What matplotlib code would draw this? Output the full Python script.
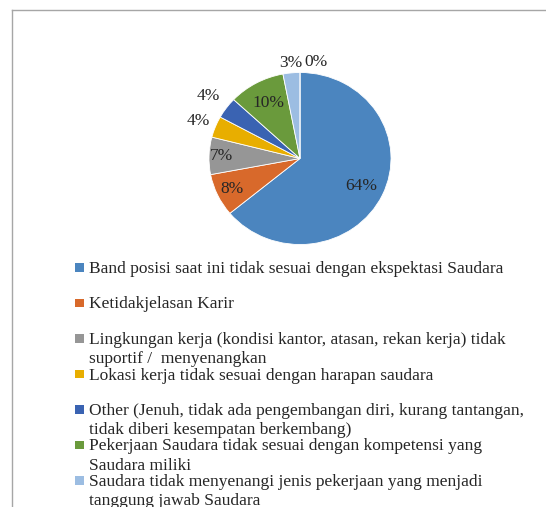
import matplotlib
matplotlib.use("Agg")
import matplotlib.pyplot as plt
from matplotlib.patches import Rectangle
from matplotlib.lines import Line2D
import numpy as np

# ---- data ----
categories = [
    "Band posisi saat ini tidak sesuai dengan ekspektasi Saudara",
    "Ketidakjelasan Karir",
    "Lingkungan kerja (kondisi kantor, atasan, rekan kerja) tidak\nsuportif /  menyenangkan",
    "Lokasi kerja tidak sesuai dengan harapan saudara",
    "Other (Jenuh, tidak ada pengembangan diri, kurang tantangan,\ntidak diberi kesempatan berkembang)",
    "Pekerjaan Saudara tidak sesuai dengan kompetensi yang\nSaudara miliki",
    "Saudara tidak menyenangi jenis pekerjaan yang menjadi\ntanggung jawab Saudara",
    "",
]
values = [64, 8, 7, 4, 4, 10, 3, 0]
pct_labels = ["64%", "8%", "7%", "4%", "4%", "10%", "3%", "0%"]
colors = ["#4B85BF", "#D8692B", "#969696", "#E8AE00", "#3A63B2", "#6A9A3C", "#9CBDE2", "#C0504D"]

# ---- layout ----
W, H = 546, 507
fig = plt.figure(figsize=(W / 100, H / 100), dpi=100)
serif = "Liberation Serif"

cx, cy, RX, RY = 300, 158.5, 91, 86
ax = fig.add_axes([(cx - RX) / W, (H - cy - RY) / H, 2 * RX / W, 2 * RY / H])
wedges, _ = ax.pie(values, colors=colors, startangle=90, counterclock=False,
                   radius=1, wedgeprops=dict(edgecolor="white", linewidth=0.6))
ax.set_aspect("auto")
ax.set_xlim(-1, 1)
ax.set_ylim(-1, 1)
ax.set_axis_off()

label_dist = [0.74, 0.82, 0.86, 1.20, 1.24, 0.73, 1.12, 1.12]
label_ha = ["center", "center", "center", "center", "center", "center", "center", "left"]
label_shift = [0, 0, 0, 0, 0, 0, 0, 0.05]
for w, lab, d, ha, sh in zip(wedges, pct_labels, label_dist, label_ha, label_shift):
    ang = np.deg2rad((w.theta1 + w.theta2) / 2)
    x, y = d * np.cos(ang) + sh, d * np.sin(ang)
    ax.text(x, y, lab, ha=ha, va="center", fontsize=12.5, family=serif,
            color="#262626", clip_on=False)

# border lines
fig.add_artist(Line2D([12 / W, 1], [1 - 10 / H, 1 - 10 / H], color="#A6A6A6", lw=1.0))
fig.add_artist(Line2D([12 / W, 12 / W], [0, 1 - 10 / H], color="#A6A6A6", lw=1.0))

# legend (manual, Excel-like spacing)
base0, step, line_h = 273, 35.5, 19
for i, (lab, col) in enumerate(zip(categories[:7], colors[:7])):
    b = base0 + i * step
    fig.add_artist(Rectangle((75 / W, 1 - (b - 1.5) / H), 9 / W, 8.5 / H,
                             facecolor=col, edgecolor="none"))
    for j, line in enumerate(lab.split("\n")):
        fig.text(89 / W, 1 - (b + j * line_h) / H, line, ha="left", va="baseline",
                 fontsize=12.5, family=serif, color="#262626")

fig.savefig("out.png", dpi=100)
